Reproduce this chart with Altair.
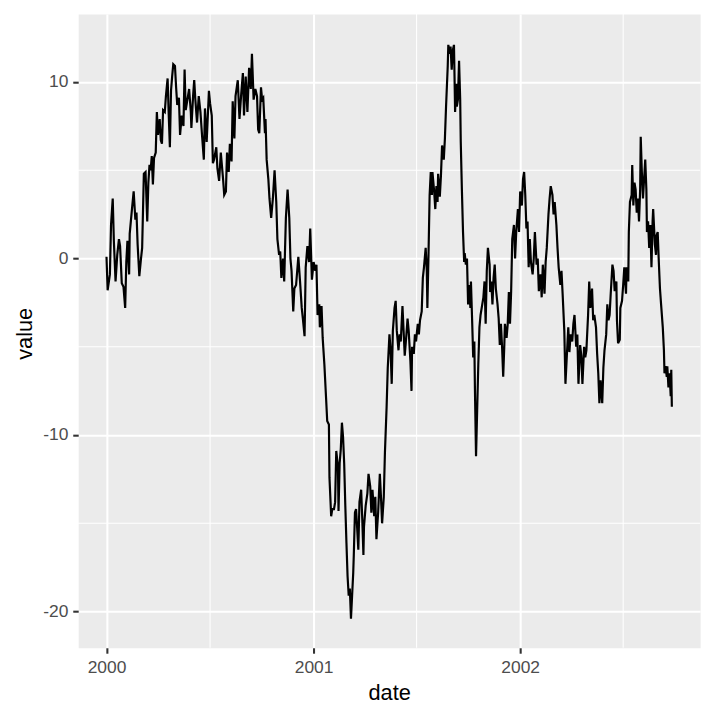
import altair as alt
import pandas as pd

START = "2000-01-01"

day_offsets = [
    0, 2, 6, 8, 11, 13, 16, 19, 22, 24, 27, 30, 33, 35, 37, 40, 41, 45, 48, 51,
    53, 55, 58, 61, 63, 66, 69, 72, 74, 76, 78, 80, 82, 84, 87, 89, 91, 94, 96, 98,
    100, 103, 105, 108, 110, 112, 114, 116, 118, 121, 123, 125, 128, 130, 133, 136, 138, 140, 143,
    146, 149, 150, 153, 155, 157, 160, 163, 166, 169, 172, 174, 177, 181, 183, 186, 188, 190, 194, 196,
    199, 202, 206, 208, 211, 213, 216, 218, 221, 223, 226, 228, 232, 235, 238, 241, 243, 246, 249, 252,
    255, 257, 260, 263, 266, 268, 270, 273, 275, 277, 280, 281, 283, 286, 288, 291, 294, 297,
    300, 302, 305, 307, 309, 312, 314, 317, 320, 323, 325, 327, 330, 332, 335, 339, 342, 345, 347, 350,
    352, 355, 358, 360, 363, 366, 369, 371, 373, 376, 377, 380, 382, 385, 388, 390, 393, 394, 397, 399,
    402, 404, 406, 409, 410, 412, 414, 416, 418, 420, 422, 424, 426, 428, 430, 432, 434, 436, 437, 439,
    441, 443, 445, 447, 450, 452, 454, 455, 458,
    461, 463, 466, 468, 470, 473, 475, 477, 480, 483, 485, 487, 490, 492, 495, 497, 500, 502, 504, 506,
    509, 511, 513, 516, 518, 520, 523, 525, 527, 530, 532, 534, 537, 539, 540, 543, 545, 547, 550, 552,
    554, 557, 559, 561, 564, 566, 567, 569,
    571, 573, 575, 576, 579, 581, 583, 585, 586, 589, 591, 593, 596, 598, 600, 603, 604, 607, 608, 610,
    612, 614, 615, 616, 618, 619, 621, 623, 625, 626, 628, 630, 632, 633, 635, 637, 639, 641, 643, 644,
    646, 648, 650, 651, 653, 655, 657, 659, 661, 664, 666, 668, 670, 672, 674, 677, 678, 680, 682, 684,
    686, 688, 691, 693, 695, 697, 699, 701, 703, 704, 707, 709, 711, 713, 715, 717, 720, 722, 724, 727,
    729, 731, 734, 736, 738,
    740, 742, 744, 746, 748, 750, 753, 755, 757, 760, 762, 764, 767, 769, 771, 774, 776, 778, 781, 783,
    785, 788, 790, 792, 795, 797, 799, 802, 804, 806, 809, 811, 813, 816, 818, 820, 823, 825, 827, 830,
    832, 834, 837, 839, 841, 844, 846, 848, 851, 853, 855, 858, 860, 862, 865, 867, 869, 871, 873, 876, 878,
    880, 883, 885, 887, 889, 891, 894, 896, 898, 901, 902, 904, 907, 908, 911, 913, 915, 918, 919, 922,
    923, 925, 928, 929, 931, 933, 935, 937, 939, 941, 943, 944, 946, 948, 950, 952, 954, 955, 957, 959,
    961, 963, 965, 966, 969, 971, 972, 974, 976, 978, 980, 983, 985, 986, 988, 990, 991, 993, 995, 997,
    998, 999,
]

values = [
    0.1, -1.8, -0.9, 1.9, 3.4, 1.0, -1.3, 0.2, 1.1, 0.7, -1.4, -1.6, -2.8, -0.2, 1.0, -0.9, 1.4, 2.8, 3.8, 2.2,
    2.6, 0.8, -1.0, 0.0, 0.6, 4.8, 4.9, 2.1, 4.3, 5.3, 5.0, 5.8, 4.2, 5.7, 6.0, 8.3, 7.0, 7.9, 6.7, 6.5,
    8.4, 8.3, 9.2, 10.2, 8.1, 6.3, 9.5, 10.3, 11.0, 10.9, 9.7, 8.7, 9.1, 7.0, 8.1, 7.5, 10.7, 8.4, 9.0,
    9.6, 8.3, 7.4, 9.2, 10.1, 9.0, 7.7, 9.2, 8.3, 6.9, 5.6, 8.5, 6.6, 9.5, 8.8, 8.1, 5.4, 5.6, 6.3, 5.1,
    4.4, 6.0, 4.5, 3.6, 3.8, 6.0, 4.9, 6.5, 5.5, 8.9, 6.8, 9.2, 10.1, 7.9, 9.3, 10.5, 8.1, 10.3, 8.3, 10.8,
    9.6, 11.6, 9.0, 9.6, 9.2, 7.3, 7.1, 9.7, 9.0, 9.1, 7.1, 7.9, 5.6, 4.5, 3.4, 2.3, 3.4, 5.0,
    3.2, 1.1, 0.2, 0.4, -1.1, 0.0, -1.3, 2.3, 3.9, 2.3, 0.0, -0.7, -3.0, -1.7, -1.5, 0.1, -1.3, -2.8, -3.4, -4.4,
    -0.5, 0.7, -0.2, 1.7, -1.2, -0.2, -0.7, -0.35, -3.2, -2.6, -3.9, -2.7, -4.5, -6.0, -7.9, -9.2, -9.4, -12.4, -14.6, -14.2,
    -14.2, -13.8, -10.9, -11.8, -14.3, -11.6, -10.8, -9.3, -10.1, -11.6, -14.0, -16.1, -18.0, -19.1, -18.7, -20.4, -19.1, -17.8, -16.8, -14.4,
    -14.2, -15.3, -16.5, -13.8, -13.1, -14.8, -16.8, -15.2, -14.0,
    -13.3, -12.2, -12.9, -14.4, -13.1, -14.6, -13.5, -15.9, -14.4, -12.2, -13.5, -15.0, -13.5, -11.0, -8.4, -6.2, -4.3, -5.2, -7.1, -4.1,
    -2.8, -2.4, -4.1, -5.2, -4.3, -4.7, -2.7, -4.1, -5.5, -4.3, -3.4, -4.1, -5.8, -7.5, -5.0, -5.4, -4.3, -4.7, -3.7, -4.3,
    -3.5, -3.0, -1.1, -0.5, 0.6, -0.7, -2.8, 0.2,
    3.6, 4.9, 3.6, 4.9, 3.8, 2.8, 4.1, 3.2, 4.8, 3.5, 4.7, 6.4, 5.6, 6.8, 8.6, 10.9, 12.1, 11.6, 12.0, 10.7,
    11.8, 12.1, 10.3, 8.3, 9.9, 8.6, 9.0, 11.2, 9.0, 6.6, 3.9, 1.5, -0.2, 0.3, -0.35, 0.0, -2.6, -1.5, -2.8, -1.3,
    -3.4, -5.6, -4.7, -7.3, -11.2, -8.6, -6.0, -3.9, -3.2, -2.6, -2.2, -1.3, -3.7, -0.7, 0.6, -0.35, -1.9, -1.3, -2.6, -1.1,
    -0.35, -1.7, -2.6, -3.4, -4.9, -3.7, -5.0, -6.7, -4.9, -3.7, -4.5, -3.7, -1.9, -3.7, -1.9, 1.1, 1.9, 0.0, 1.5, 2.8,
    1.5, 3.8, 3.0, 4.5, 4.9,
    3.6, 1.7, 2.1, -0.5, 1.1, -0.2, -0.9, 0.0, 1.5, -0.35, 0.0, -1.85, -0.9, -2.2, -0.35, -2.0, -0.2, 0.6, 2.5, 3.4,
    4.1, 3.6, 2.5, 3.2, 1.9, 0.6, -0.5, -1.5, -0.7, -2.0, -4.1, -7.1, -5.8, -3.9, -5.3, -4.3, -4.7, -3.7, -3.2, -5.0,
    -4.3, -7.1, -4.9, -5.5, -7.1, -5.0, -5.6, -5.2, -3.2, -1.3, -2.8, -1.7, -3.5, -3.2, -3.9, -5.4, -6.5, -8.2, -6.9, -8.2, -6.2,
    -5.2, -4.3, -2.6, -3.5, -3.2, -2.0, -0.35, -0.7, -1.85, -1.3, -3.5, -4.8, -4.6, -2.8, -2.4, -1.5, -0.5, -2.0, -0.5, -1.3,
    1.5, 3.2, 3.6, 5.3, 3.0, 4.3, 3.9, 2.6, 3.4, 2.1, 3.9, 6.9, 4.9, 3.4, 4.5, 5.6, 3.9, 1.5, 2.1, 0.6,
    1.9, -0.5, 2.1, 2.8, 0.8, 0.2, 1.3, 1.5, -0.2, -1.7, -2.6, -3.9, -5.2, -6.5, -6.1, -6.7, -6.1, -7.3, -6.5, -7.8,
    -6.3, -8.4,
]

x_tick_dates = ["2000-01-01", "2001-01-01", "2002-01-01"]
x_minor_dates = ["2000-07-02", "2001-07-02", "2002-07-02"]
y_ticks = [-20, -10, 0, 10]
y_minor = [-15, -5, 5]
x_domain = ["1999-11-12", "2002-11-15"]
y_domain = [-22.05, 13.85]

start = pd.Timestamp(START)
n = min(len(day_offsets), len(values))
df = pd.DataFrame({
    "date": [(start + pd.Timedelta(days=d)).strftime("%Y-%m-%d") for d in day_offsets[:n]],
    "value": values[:n],
})
minor_x_df = pd.DataFrame({"date": x_minor_dates})
minor_y_df = pd.DataFrame({"value": y_minor})


def to_dt(s):
    t = pd.Timestamp(s)
    return alt.DateTime(year=t.year, month=t.month, date=t.day, utc=True)


FONT = "Liberation Sans"

x_scale = alt.Scale(type="utc", domain=[to_dt(s) for s in x_domain], nice=False)
y_scale = alt.Scale(domain=y_domain, nice=False, zero=False)

x_axis = alt.Axis(
    title="date", values=[to_dt(s) for s in x_tick_dates], format="%Y",
    grid=True, gridColor="white", gridWidth=2.1, domain=False,
    tickSize=5.5, tickWidth=2.1, tickColor="#333333",
    labelFont=FONT, labelFontSize=17.6, labelColor="#4D4D4D", labelPadding=5.6,
    titleFont=FONT, titleFontSize=22, titleFontWeight="normal", titleColor="black",
    titleBaseline="alphabetic", titleY=52,
)
y_axis = alt.Axis(
    title="value", values=y_ticks, labelExpr="'' + datum.value",
    grid=True, gridColor="white", gridWidth=2.1, domain=False,
    tickSize=5.5, tickWidth=2.1, tickColor="#333333",
    labelFont=FONT, labelFontSize=17.6, labelColor="#4D4D4D", labelPadding=5,
    titleFont=FONT, titleFontSize=22, titleFontWeight="normal", titleColor="black",
    titleBaseline="alphabetic", titleX=-47, titleY=323, titleAngle=270,
)

x_enc = alt.X("date:T", scale=x_scale, axis=x_axis)
y_enc = alt.Y("value:Q", scale=y_scale, axis=y_axis)

minor_x = alt.Chart(minor_x_df).mark_rule(color="white", strokeWidth=1.07).encode(x=x_enc)
minor_y = alt.Chart(minor_y_df).mark_rule(color="white", strokeWidth=1.07).encode(y=y_enc)
line = alt.Chart(df).mark_line(color="black", strokeWidth=2.2).encode(x=x_enc, y=y_enc)

chart = (
    alt.layer(minor_x, minor_y, line)
    .properties(
        width=629, height=641, autosize="none",
        padding={"left": 71, "top": 2, "right": 12, "bottom": 69},
        background="white",
    )
    .configure_view(fill="#EBEBEB", stroke="transparent")
)

chart.save("out.html", embed_options={"renderer": "svg", "actions": False})
